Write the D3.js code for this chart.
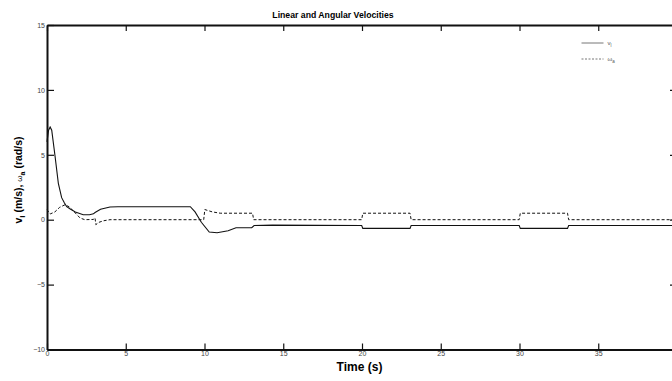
<!DOCTYPE html>
<html>
<head>
<meta charset="utf-8">
<script src="https://cdn.jsdelivr.net/npm/d3@7"></script>
<style>
  body { margin: 0; background: #fff; }
  svg { display: block; font-family: "Liberation Sans", Arial, sans-serif; }
  .tick text { fill: #444; font-size: 7px; }
</style>
</head>
<body>
<div class="velChart"></div>
<script>
// linear velocity v_l (solid)
const vTime = [0, 0.1, 0.2, 0.3, 0.5, 0.72, 0.93, 1.1, 1.25, 1.5, 1.8, 2.3, 2.7, 2.95, 3.05, 3.4, 4.0, 4.5,
  9.1, 9.4, 9.8, 10.3, 10.8, 11.5, 12.0, 12.9, 13.0, 13.15, 14.3,
  19.98, 20.05, 23.05, 23.12, 29.98, 30.05, 33.05, 33.12, 40];
const vValue = [6.0, 6.9, 7.15, 6.9, 5.0, 2.8, 1.7, 1.3, 1.0, 0.8, 0.6, 0.38, 0.38, 0.45, 0.55, 0.8, 0.98, 1.0,
  1.0, 0.6, -0.2, -0.95, -1.0, -0.85, -0.62, -0.62, -0.62, -0.45, -0.42,
  -0.45, -0.67, -0.67, -0.45, -0.45, -0.67, -0.67, -0.45, -0.45];

// angular velocity w_a (dashed)
const wTime = [0, 0.2, 0.5, 0.8, 1.14, 1.4, 1.7, 2.1, 2.4, 2.94, 3.05, 3.1, 3.3, 3.6, 4.0,
  9.95, 10.02, 10.5, 11.0, 11.5, 13.05, 13.12, 19.98, 20.05, 23.05, 23.12, 29.98, 30.05, 33.05, 33.12, 40];
const wValue = [0.77, 0.44, 0.6, 0.95, 1.15, 1.0, 0.64, 0.13, 0, 0.02, 0.15, -0.38, -0.2, -0.08, 0,
  0, 0.78, 0.6, 0.5, 0.5, 0.5, 0, 0, 0.5, 0.5, 0, 0, 0.5, 0.5, 0, 0];

// the 40 tick sits just past the picture's right edge
const xTicks = [0, 5, 10, 15, 20, 25, 30, 35];
const yTicks = [-10, -5, 0, 5, 10, 15];

const margin = ({top: 25, right: -5, bottom: 31.5, left: 47});
const W = 672, H = 381;
const width = W - margin.left - margin.right;
const height = H - margin.top - margin.bottom;

const svg = d3.select('.velChart')
  .append('svg')
  .attr('width', W)
  .attr('height', H)
  .append('g')
  .attr('transform', `translate(${margin.left}, ${margin.top})`);

const xScale = d3.scaleLinear().domain([0, 40]).range([0, width]);
const yScale = d3.scaleLinear().domain([-10, 15]).range([height, 0]);

// axes, ticks pointing inward
const xBottom = d3.axisBottom(xScale).tickValues(xTicks).tickSizeInner(-6).tickSizeOuter(0).tickPadding(3);
const xTop = d3.axisTop(xScale).tickValues(xTicks).tickSizeInner(-6).tickSizeOuter(0).tickFormat('');
const yLeft = d3.axisLeft(yScale).tickValues(yTicks).tickSizeInner(-7).tickSizeOuter(0).tickPadding(2);
const yRight = d3.axisRight(yScale).tickValues(yTicks).tickSizeInner(-7).tickSizeOuter(0).tickFormat('');

function styleAxis(g) {
  g.select('.domain').attr('stroke', '#111').attr('stroke-width', 2);
  g.selectAll('.tick line').attr('stroke', '#111').attr('stroke-width', 1.2);
}

svg.append('g').attr('transform', `translate(0, ${height})`).call(xBottom).call(styleAxis)
  .selectAll('.tick text').attr('dy', '0.5em');
svg.append('g').call(xTop).call(styleAxis);
svg.append('g').call(yLeft).call(styleAxis);
svg.append('g').attr('transform', `translate(${width}, 0)`).call(yRight).call(styleAxis);

// series
const vData = vTime.map((t, i) => ({t: t, v: vValue[i]}));
const wData = wTime.map((t, i) => ({t: t, v: wValue[i]}));

const line = d3.line()
  .x(d => xScale(d.t))
  .y(d => yScale(d.v));

svg.append('path')
  .datum(vData)
  .attr('d', line)
  .attr('fill', 'none')
  .attr('stroke', '#111')
  .attr('stroke-width', 1.1);

svg.append('path')
  .datum(wData)
  .attr('d', line)
  .attr('fill', 'none')
  .attr('stroke', '#111')
  .attr('stroke-width', 1)
  .attr('stroke-dasharray', '3,2');

// legend
const legend = svg.append('g').attr('transform', `translate(${581.5 - margin.left}, ${43 - margin.top})`);
legend.append('line').attr('x1', 0).attr('x2', 22).attr('y1', 0).attr('y2', 0)
  .attr('stroke', '#777').attr('stroke-width', 1);
legend.append('line').attr('x1', 0).attr('x2', 22).attr('y1', 16).attr('y2', 16)
  .attr('stroke', '#777').attr('stroke-width', 1).attr('stroke-dasharray', '2,1.5');
const l1 = legend.append('text').attr('x', 26).attr('y', 2).attr('font-size', 6).attr('fill', '#555');
l1.append('tspan').text('v');
l1.append('tspan').attr('dy', 2).attr('font-size', 4.5).text('l');
const l2 = legend.append('text').attr('x', 26).attr('y', 18).attr('font-size', 6).attr('fill', '#555');
l2.append('tspan').text('ω');
l2.append('tspan').attr('dy', 2).attr('font-size', 4.5).text('a');

// title and labels
svg.append('text')
  .attr('x', 333 - margin.left)
  .attr('y', 17.5 - margin.top)
  .attr('text-anchor', 'middle')
  .attr('font-size', 8.7)
  .attr('font-weight', 'bold')
  .text('Linear and Angular Velocities');

svg.append('text')
  .attr('x', 359.5 - margin.left)
  .attr('y', 371 - margin.top)
  .attr('text-anchor', 'middle')
  .attr('font-size', 12)
  .attr('font-weight', 'bold')
  .text('Time (s)');

const yl = svg.append('text')
  .attr('transform', `translate(${22 - margin.left}, ${180 - margin.top}) rotate(-90)`)
  .attr('text-anchor', 'middle')
  .attr('font-size', 10.5)
  .attr('font-weight', 'bold');
yl.append('tspan').text('v');
yl.append('tspan').attr('dy', 3).attr('font-size', 8).text('l');
yl.append('tspan').attr('dy', -3).text(' (m/s), ');
yl.append('tspan').attr('font-weight', 'normal').attr('font-size', 8).text('ω');
yl.append('tspan').attr('dy', 3).attr('font-size', 7).text('a');
yl.append('tspan').attr('dy', -3).text(' (rad/s)');
</script>
</body>
</html>
